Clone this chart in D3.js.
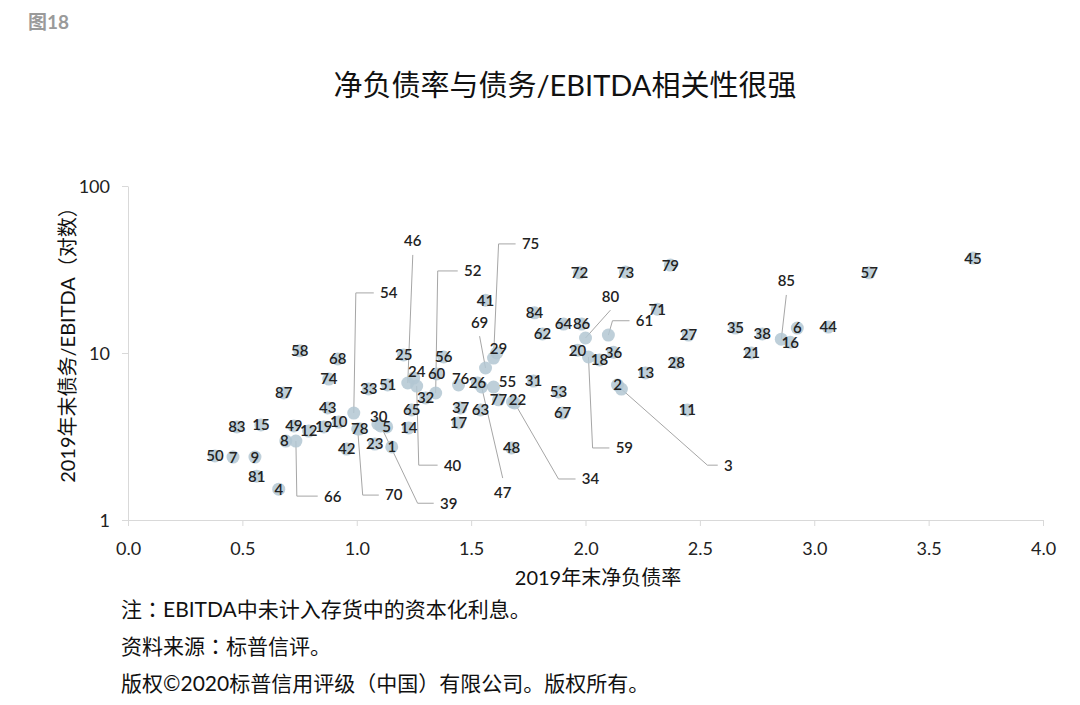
<!DOCTYPE html>
<html>
<head>
<meta charset="utf-8">
<script src="https://cdn.jsdelivr.net/npm/d3@7"></script>
<style>
  body { margin: 0; background: #fff; }
  text { font-family: Lato, "Noto Sans CJK SC", sans-serif; }
</style>
</head>
<body>
<svg id="chart" width="1080" height="705"></svg>
<script>
// [id, 2019年末净负债率, 2019年末债务/EBITDA]
var points = [
  [1, 1.153, 2.74], [2, 2.14, 6.43], [3, 2.157, 6.08], [4, 0.659, 1.53], [5, 1.131, 3.61],
  [6, 2.926, 14.1], [7, 0.459, 2.38], [8, 0.69, 2.97], [9, 0.555, 2.38], [10, 0.921, 3.86],
  [11, 2.445, 4.56], [12, 0.79, 3.41], [13, 2.262, 7.59], [14, 1.227, 3.56], [15, 0.581, 3.71],
  [16, 2.895, 11.6], [17, 1.445, 3.81], [18, 2.061, 9.08], [19, 0.856, 3.61], [20, 1.965, 10.4],
  [21, 2.725, 10.0], [22, 1.681, 5.09], [23, 1.079, 2.85], [24, 1.249, 7.08], [25, 1.205, 9.73],
  [26, 1.528, 6.61], [27, 2.45, 12.8], [28, 2.397, 8.71], [29, 1.612, 10.0], [30, 1.092, 3.76],
  [31, 1.773, 6.79], [32, 1.301, 5.38], [33, 1.052, 6.09], [34, 1.69, 5.02], [35, 2.655, 14.1],
  [36, 2.122, 10.1], [37, 1.454, 4.69], [38, 2.773, 13.0], [39, 1.105, 3.66], [40, 1.262, 6.34],
  [41, 1.563, 20.7], [42, 0.956, 2.66], [43, 0.873, 4.69], [44, 3.061, 14.3], [45, 3.694, 37.0],
  [46, 1.223, 6.61], [47, 1.546, 6.26], [48, 1.677, 2.70], [49, 0.725, 3.66], [50, 0.38, 2.42],
  [51, 1.135, 6.43], [52, 1.345, 5.76], [53, 1.882, 5.84], [54, 0.987, 4.37], [55, 1.598, 6.26],
  [56, 1.38, 9.46], [57, 3.24, 30.2], [58, 0.751, 10.3], [59, 2.013, 9.46], [60, 1.349, 7.49],
  [61, 2.1, 12.8], [62, 1.812, 13.0], [63, 1.541, 4.56], [64, 1.904, 14.9], [65, 1.24, 4.56],
  [66, 0.734, 2.97], [67, 1.9, 4.37], [68, 0.917, 9.21], [69, 1.563, 8.13], [70, 1.004, 3.51],
  [71, 2.314, 18.3], [72, 1.974, 30.2], [73, 2.175, 30.5], [74, 0.878, 6.98], [75, 1.598, 9.33],
  [76, 1.445, 6.43], [77, 1.62, 5.24], [78, 1.013, 3.51], [79, 2.371, 33.6], [80, 2.0, 12.3],
  [81, 0.563, 1.83], [83, 0.476, 3.61], [84, 1.777, 17.4], [85, 2.856, 12.1], [86, 1.983, 14.9],
  [87, 0.681, 5.76]
];

// labels that sit beside their point: [id, label x, label y]
var labelShift = [
  [24, 1.262, 7.69], [29, 1.62, 10.6], [30, 1.096, 4.14], [55, 1.659, 6.70],
  [76, 1.454, 6.98], [22, 1.703, 5.24], [8, 0.683, 2.97]
];

// labels moved away with a leader line: [id, label x, label y, elbow x (null = straight)]
var callouts = [
  [54, 1.14, 22.9, 0.996], [52, 1.507, 31.0, 1.354], [75, 1.76, 45.0, 1.62],
  [61, 2.258, 15.6, 2.118], [66, 0.895, 1.39, 0.738], [70, 1.162, 1.41, 1.026],
  [39, 1.402, 1.26, 1.266], [40, 1.419, 2.13, 1.271], [34, 2.022, 1.76, 1.882],
  [59, 2.17, 2.70, 2.031], [3, 2.624, 2.13, 2.533],
  [46, 1.245, 46.9, null], [69, 1.537, 15.3, null], [80, 2.109, 21.9, null],
  [47, 1.638, 1.45, null], [85, 2.878, 27.0, null]
];

var xTicks = [0, 0.5, 1.0, 1.5, 2.0, 2.5, 3.0, 3.5, 4.0];
var yTicks = [1, 10, 100];

var title = "净负债率与债务/EBITDA相关性很强";
var xTitle = "2019年末净负债率";
var yTitle = "2019年末债务/EBITDA（对数）";
var notes = [
  "注：EBITDA中未计入存货中的资本化利息。",
  "资料来源：标普信评。",
  "版权©2020标普信用评级（中国）有限公司。版权所有。"
];

var svg = d3.select("#chart");

var x = d3.scaleLinear().domain([0, 4]).range([128, 1043]);
var y = d3.scaleLog().domain([1, 100]).range([520, 186]);

// colon and brackets drawn centred, like the original font
function cjkText(sel, str) {
  str.split(/([：（）])/).forEach(function(part) {
    if (!part) return;
    var t = sel.append("tspan").text(part);
    if (/[：（）]/.test(part)) t.attr("font-family", "'Noto Sans CJK TC', sans-serif");
  });
}

// figure number and title
svg.append("text")
  .attr("x", 28).attr("y", 29)
  .attr("fill", "#9a9a9a")
  .attr("font-size", 19)
  .attr("font-weight", "bold")
  .text("图18");

svg.append("text")
  .attr("x", 565).attr("y", 96)
  .attr("text-anchor", "middle")
  .attr("font-size", 29)
  .attr("fill", "#111")
  .text(title);

// axes
var xAxis = svg.append("g")
  .attr("transform", "translate(0,520)")
  .call(d3.axisBottom(x).tickValues(xTicks).tickFormat(d3.format(".1f")).tickSize(6).tickSizeOuter(0).tickPadding(16));

var yAxis = svg.append("g")
  .attr("transform", "translate(128,0)")
  .call(d3.axisLeft(y).tickValues(yTicks).tickFormat(d3.format("d")).tickSize(6).tickSizeOuter(0).tickPadding(12));

[xAxis, yAxis].forEach(function(g) {
  g.select(".domain").attr("stroke", "#d9d9d9");
  g.selectAll(".tick line").attr("stroke", "#d9d9d9");
  g.selectAll(".tick text").attr("font-size", 18).attr("fill", "#222").attr("font-family", "Lato, sans-serif");
});
yAxis.selectAll(".tick text").attr("dy", "0.35em");

svg.append("text")
  .attr("x", 598).attr("y", 585)
  .attr("text-anchor", "middle")
  .attr("font-size", 20)
  .attr("fill", "#111")
  .text(xTitle);

svg.append("text")
  .attr("transform", "translate(75,340) rotate(-90)")
  .attr("text-anchor", "middle")
  .attr("font-size", 20)
  .attr("fill", "#111")
  .call(cjkText, yTitle);

// notes
svg.selectAll(".note")
  .data(notes)
  .enter().append("text")
  .attr("class", "note")
  .attr("x", 121)
  .attr("y", function(d, i) { return 617 + i * 37; })
  .attr("font-size", 21)
  .attr("fill", "#111")
  .each(function(d) { cjkText(d3.select(this), d); });

var byId = {};
points.forEach(function(p) { byId[p[0]] = p; });

var labelPos = {};
points.forEach(function(p) { labelPos[p[0]] = [x(p[1]), y(p[2])]; });
labelShift.forEach(function(s) { labelPos[s[0]] = [x(s[1]), y(s[2])]; });
callouts.forEach(function(c) { labelPos[c[0]] = [x(c[1]), y(c[2])]; });

// leader lines
svg.append("g")
  .selectAll("path")
  .data(callouts)
  .enter().append("path")
  .attr("fill", "none")
  .attr("stroke", "#a6a6a6")
  .attr("stroke-width", 1)
  .attr("d", function(c) {
    var p = byId[c[0]];
    var px = x(p[1]), py = y(p[2]);
    var lx = x(c[1]), ly = y(c[2]);
    if (c[3] === null) {
      var ey = ly > py ? ly - 15 : ly + 14;
      return "M" + px + "," + py + "L" + lx + "," + ey;
    }
    var w = String(c[0]).length * 9;
    return "M" + px + "," + py + "L" + x(c[3]) + "," + ly + "L" + (lx - w / 2 - 6) + "," + ly;
  });

// points
svg.append("g")
  .selectAll("circle")
  .data(points)
  .enter().append("circle")
  .attr("cx", function(d) { return x(d[1]); })
  .attr("cy", function(d) { return y(d[2]); })
  .attr("r", 6.5)
  .attr("fill", "#b3c7d2")
  .attr("fill-opacity", 0.85);

// data labels
svg.append("g")
  .selectAll("text")
  .data(points)
  .enter().append("text")
  .attr("x", function(d) { return labelPos[d[0]][0]; })
  .attr("y", function(d) { return labelPos[d[0]][1]; })
  .attr("dy", "0.36em")
  .attr("text-anchor", "middle")
  .attr("font-size", 15)
  .attr("font-weight", 600)
  .attr("fill", "#222")
  .attr("font-family", "'Open Sans', sans-serif")
  .text(function(d) { return d[0]; });
</script>
</body>
</html>
